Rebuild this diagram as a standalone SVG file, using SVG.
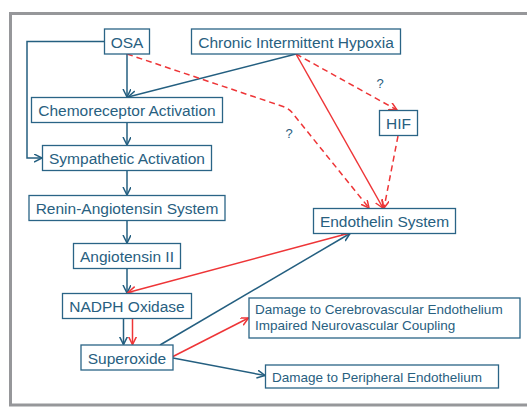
<svg xmlns="http://www.w3.org/2000/svg" width="527" height="407" viewBox="0 0 527 407">
<style>
.box{fill:#fff;stroke:#2a6486;stroke-width:1.3}
.t{font-family:"Liberation Sans",Arial,sans-serif;font-size:15.5px;fill:#28607f;text-anchor:middle}
.ts{font-family:"Liberation Sans",Arial,sans-serif;font-size:13.5px;fill:#28607f}
.q{font-family:"Liberation Sans",Arial,sans-serif;font-size:13px;fill:#28607f;text-anchor:middle}
.b{fill:none;stroke:#245f80;stroke-width:1.5;marker-end:url(#ab)}
.r{fill:none;stroke:#ee3537;stroke-width:1.5;marker-end:url(#ar)}
.d{stroke-dasharray:6,4}
</style>
<defs>
<marker id="ab" markerUnits="userSpaceOnUse" markerWidth="10" markerHeight="10" refX="8" refY="4" orient="auto"><path d="M0,0 L8,4 L0,8" fill="none" stroke="#245f80" stroke-width="1.5"/></marker>
<marker id="ar" markerUnits="userSpaceOnUse" markerWidth="10" markerHeight="10" refX="8" refY="4" orient="auto"><path d="M0,0 L8,4 L0,8" fill="none" stroke="#ee3537" stroke-width="1.5"/></marker>
</defs>
<rect width="527" height="407" fill="#fff"/>
<path d="M527,13.5 H10.5 V405 H527" fill="none" stroke="#96979a" stroke-width="3"/>
<g id="connectors">
<path class="b" d="M127,54 V97"/>
<path class="b" d="M104.5,41.5 H27 V158 H42"/>
<path class="b" d="M296,54 L128,97"/>
<path class="b" d="M127,122.5 V145"/>
<path class="b" d="M127,170.5 V195"/>
<path class="b" d="M127,220.5 V243"/>
<path class="b" d="M127,268.5 V293"/>
<path class="b" d="M123.5,318.5 V344.5"/>
<path class="r" d="M132.5,318.5 V344.5"/>
<path class="b" d="M160,345 L350,233.5"/>
<path class="r" d="M348,233.5 L128,292.5"/>
<path class="r" d="M173,356.5 L248.5,318"/>
<path class="b" d="M173,358 L265,375.5"/>
<path class="r d" d="M127,54 L283,106.5 Q290,109 294,115 L369,208"/>
<path class="r d" d="M296,54 L397,110"/>
<path class="r" d="M296,54 L383,208"/>
<path class="r d" d="M398,136 L384,208"/>
</g>
<text class="q" x="380" y="88">?</text>
<text class="q" x="289" y="138">?</text>
<g id="osa"><rect class="box" x="104.5" y="29" width="45" height="25"/><text class="t" x="127" y="47.5">OSA</text></g>
<g id="cih"><rect class="box" x="191.5" y="29" width="209" height="25"/><text class="t" x="296" y="47.5">Chronic Intermittent Hypoxia</text></g>
<g id="chemo"><rect class="box" x="31.5" y="97.5" width="191" height="25"/><text class="t" x="127" y="116">Chemoreceptor Activation</text></g>
<g id="symp"><rect class="box" x="42.5" y="145.5" width="169" height="25"/><text class="t" x="127" y="164">Sympathetic Activation</text></g>
<g id="ras"><rect class="box" x="29" y="195.5" width="196" height="25"/><text class="t" x="127" y="214">Renin-Angiotensin System</text></g>
<g id="ang"><rect class="box" x="73.5" y="243.5" width="107" height="25"/><text class="t" x="127" y="262">Angiotensin II</text></g>
<g id="nadph"><rect class="box" x="62.5" y="293.5" width="129" height="25"/><text class="t" x="127" y="312">NADPH Oxidase</text></g>
<g id="superoxide"><rect class="box" x="81" y="345" width="92" height="25"/><text class="t" x="127" y="363.5">Superoxide</text></g>
<g id="hif"><rect class="box" x="379.5" y="110.5" width="38" height="25"/><text class="t" x="398.5" y="129">HIF</text></g>
<g id="endothelin"><rect class="box" x="313.5" y="208.5" width="142" height="25"/><text class="t" x="384.5" y="227">Endothelin System</text></g>
<g id="cerebro"><rect class="box" x="249" y="298" width="271" height="40"/><text class="ts" x="255" y="314">Damage to Cerebrovascular Endothelium</text><text class="ts" x="255" y="330">Impaired Neurovascular Coupling</text></g>
<g id="peripheral"><rect class="box" x="265.5" y="365" width="233" height="23"/><text class="ts" x="272" y="381.5">Damage to Peripheral Endothelium</text></g>
</svg>
